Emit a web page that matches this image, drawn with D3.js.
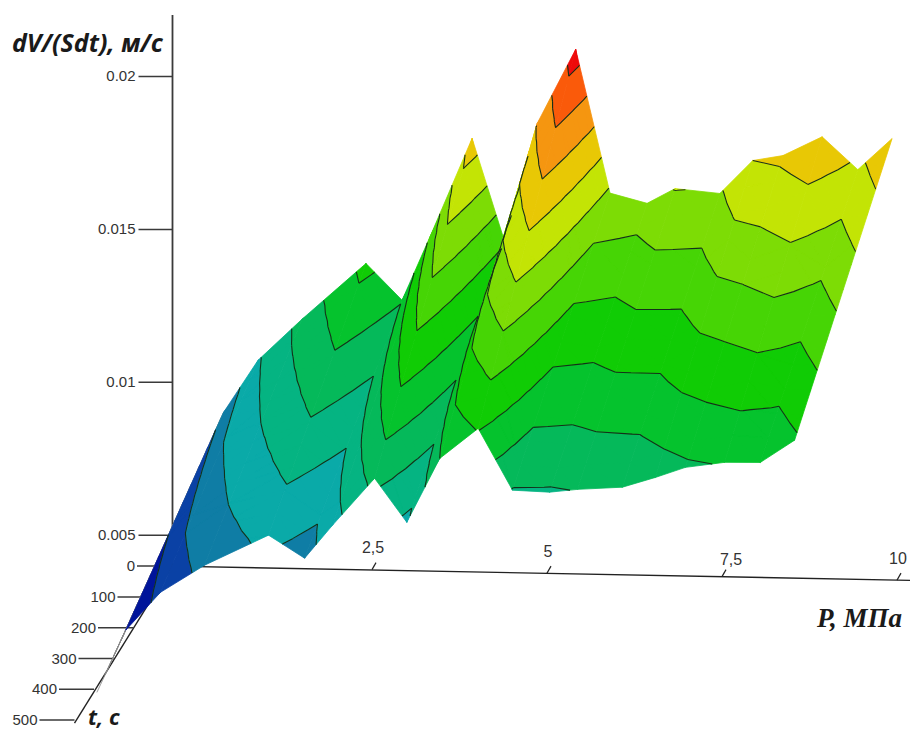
<!DOCTYPE html>
<html>
<head>
<meta charset="utf-8">
<script src="https://cdn.jsdelivr.net/npm/d3@7"></script>
<style>
  html, body { margin: 0; padding: 0; background: #fff; }
  svg { display: block; }
</style>
</head>
<body>
<div id="chart"></div>
<script>
// values: one flux per pressure column, at both ends of the time range
const pressures = [0.28, 0.64, 1.075, 1.625, 2.425, 2.93, 3.33, 3.93, 4.39, 4.86, 5.41, 5.9, 6.43, 6.83, 7.47, 7.94, 8.37, 8.93, 9.44, 9.93];
const times = [0, 500];
const fluxAtStart = [0.00673, 0.00901, 0.01075, 0.01212, 0.01398, 0.0128, 0.0149, 0.01814, 0.01482, 0.01867, 0.02112, 0.01644, 0.01613, 0.01663, 0.0165, 0.0176, 0.01778, 0.01842, 0.01737, 0.01841];
const fluxAtEnd = [0.00489, 0.00694, 0.0082, 0.00911, 0.01013, 0.0094, 0.0105, 0.01206, 0.01064, 0.01275, 0.01376, 0.01176, 0.01172, 0.01183, 0.01193, 0.01227, 0.01262, 0.01281, 0.01283, 0.01358];

const contourLevels = [0.00785, 0.00885, 0.00985, 0.01085, 0.0118, 0.01275, 0.0137, 0.0147, 0.01565, 0.0166, 0.0176, 0.0186, 0.0196, 0.0206];
const bandColors = ['#00149a', '#0a41a5', '#0f7da5', '#0aaaa8', '#05b482', '#05b95a', '#05c32d', '#10cc05', '#46d505', '#7ddc05', '#c3e405', '#e8c805', '#f59610', '#fa5a0a', '#ee0a0a'];

const fluxTicks = [0.005, 0.01, 0.015, 0.02];
const timeTicks = [0, 100, 200, 300, 400, 500];
const pressureTicks = [2.5, 5, 7.5, 10];
const floorFlux = 0.00397;

const width = 910;
const height = 731;

const svg = d3.select('#chart')
    .append('svg')
    .attr('width', width)
    .attr('height', height);

// oblique projection of the Mathcad box: each axis adds its own shift on screen
const pScale = d3.scaleLinear().domain([0, 2.5, 10]).range([172, 372, 897]);
const pShiftY = d3.scaleLinear().domain([0, 10]).range([0, 14]);
const tShiftX = d3.scaleLinear().domain([0, 500]).range([0, -97.5]);
const tShiftY = d3.scaleLinear().domain([0, 500]).range([0, 154]);
const zScale = d3.scaleLinear().domain([0, 0.02]).range([687.5, 76]);

function project(p, t, v) {
    return [pScale(p) + tShiftX(t), zScale(v) + pShiftY(p) + tShiftY(t)];
}

const axisColor = '#3a3a3a';
const labelFont = '"Liberation Sans", Arial, sans-serif';

// axes go first, the surface hides them where it passes in front
const zAxis = svg.append('g')
    .attr('transform', 'translate(172.5,0)')
    .call(d3.axisLeft(zScale).tickValues(fluxTicks).tickSize(34).tickPadding(3).tickFormat(String));
zAxis.select('.domain').remove();
zAxis.selectAll('line').attr('stroke', axisColor).attr('stroke-width', 1.5);
zAxis.selectAll('text').attr('font-family', labelFont).attr('font-size', 15).attr('fill', '#333');

const origin = project(0, 0, floorFlux);
const pEnd = project(10.19, 0, floorFlux);
const tEnd = project(0, 500, floorFlux);

svg.append('line')
    .attr('x1', origin[0] + 0.5).attr('y1', 15)
    .attr('x2', origin[0] + 0.5).attr('y2', origin[1])
    .attr('stroke', axisColor).attr('stroke-width', 1.8);

svg.append('line')
    .attr('x1', origin[0]).attr('y1', origin[1])
    .attr('x2', pEnd[0]).attr('y2', pEnd[1])
    .attr('stroke', '#222').attr('stroke-width', 1.4);

svg.append('line')
    .attr('x1', origin[0]).attr('y1', origin[1])
    .attr('x2', tEnd[0]).attr('y2', tEnd[1] + 3)
    .attr('stroke', '#222').attr('stroke-width', 1.4);

svg.selectAll('.t-tick')
    .data(timeTicks)
    .join('line')
    .attr('class', 't-tick')
    .attr('x1', d => project(0, d, floorFlux)[0] - 35)
    .attr('x2', d => project(0, d, floorFlux)[0])
    .attr('y1', d => project(0, d, floorFlux)[1])
    .attr('y2', d => project(0, d, floorFlux)[1])
    .attr('stroke', axisColor)
    .attr('stroke-width', 1.5);

svg.selectAll('.t-label')
    .data(timeTicks)
    .join('text')
    .attr('class', 't-label')
    .attr('x', d => project(0, d, floorFlux)[0] - 37)
    .attr('y', d => project(0, d, floorFlux)[1] + 5)
    .attr('text-anchor', 'end')
    .attr('font-family', labelFont)
    .attr('font-size', 15)
    .attr('fill', '#333')
    .text(d => d);

svg.selectAll('.p-tick')
    .data(pressureTicks)
    .join('line')
    .attr('class', 'p-tick')
    .attr('x1', d => project(d, 0, floorFlux)[0])
    .attr('y1', d => project(d, 0, floorFlux)[1])
    .attr('x2', d => project(d, 0, floorFlux)[0] + 4)
    .attr('y2', d => project(d, 0, floorFlux)[1] - 7)
    .attr('stroke', '#222')
    .attr('stroke-width', 1.2);

// the 7,5 label sits further right and lower than the others in the original
svg.selectAll('.p-label')
    .data(pressureTicks)
    .join('text')
    .attr('class', 'p-label')
    .attr('x', d => project(d, 0, floorFlux)[0] + (d === 7.5 ? 9 : 1))
    .attr('y', d => project(d, 0, floorFlux)[1] - (d === 7.5 ? 11.5 : 16.5))
    .attr('text-anchor', 'middle')
    .attr('font-family', labelFont)
    .attr('font-size', 16)
    .attr('fill', '#333')
    .text(d => String(d).replace('.', ','));

// surface: every column cell is cut into thin strips along t so contours stay straight
const strips = 12;
const bandPaths = bandColors.map(() => []);
const levelPaths = contourLevels.map(() => []);

function clipAbove(poly, level, keepAbove) {
    const out = [];
    poly.forEach((a, i) => {
        const b = poly[(i + 1) % poly.length];
        const aIn = keepAbove ? a[2] >= level : a[2] <= level;
        const bIn = keepAbove ? b[2] >= level : b[2] <= level;
        if (aIn) out.push(a);
        if (aIn !== bIn) {
            const k = (level - a[2]) / (b[2] - a[2]);
            out.push([a[0] + (b[0] - a[0]) * k, a[1] + (b[1] - a[1]) * k, level]);
        }
    });
    return out;
}

function polyPath(pts) {
    const ring = pts.map(d => [d[0], d[1]]);
    if (d3.polygonArea(ring) < 0) ring.reverse();
    return 'M' + ring.map(d => d[0].toFixed(2) + ',' + d[1].toFixed(2)).join('L') + 'Z';
}

function addTriangle(tri) {
    bandColors.forEach((c, b) => {
        let poly = tri;
        if (b > 0) poly = clipAbove(poly, contourLevels[b - 1], true);
        if (poly.length && b < contourLevels.length) poly = clipAbove(poly, contourLevels[b], false);
        if (poly.length >= 3) bandPaths[b].push(polyPath(poly));
    });
    contourLevels.forEach((level, l) => {
        const hits = [];
        tri.forEach((a, i) => {
            const q = tri[(i + 1) % 3];
            if ((a[2] < level) !== (q[2] < level)) {
                const k = (level - a[2]) / (q[2] - a[2]);
                hits.push([a[0] + (q[0] - a[0]) * k, a[1] + (q[1] - a[1]) * k]);
            }
        });
        if (hits.length === 2) {
            levelPaths[l].push('M' + hits[0].map(n => n.toFixed(2)).join(',') + 'L' + hits[1].map(n => n.toFixed(2)).join(','));
        }
    });
}

function node(col, k) {
    const t = times[0] + (times[1] - times[0]) * k;
    const v = fluxAtStart[col] + (fluxAtEnd[col] - fluxAtStart[col]) * k;
    return [...project(pressures[col], t, v), v];
}

const surface = svg.append('g');
const lines = svg.append('g');

// left to right, so a later sheet covers the one folded behind it
d3.range(pressures.length - 1).forEach(col => {
    bandPaths.forEach(list => { list.length = 0; });
    levelPaths.forEach(list => { list.length = 0; });
    d3.range(strips).forEach(s => {
        const a = node(col, s / strips);
        const b = node(col + 1, s / strips);
        const c = node(col + 1, (s + 1) / strips);
        const d = node(col, (s + 1) / strips);
        addTriangle([a, b, c]);
        addTriangle([a, c, d]);
    });
    bandPaths.forEach((list, b) => {
        if (!list.length) return;
        // the first sheet is seen edge-on and shows only as a thin grey line
        surface.append('path')
            .attr('d', list.join(''))
            .attr('fill', col === 0 ? '#8a8a8a' : bandColors[b])
            .attr('stroke', col === 0 ? '#8a8a8a' : bandColors[b])
            .attr('stroke-width', col === 0 ? 0.5 : 0.8)
            .attr('stroke-linejoin', 'round');
    });
    if (col === 0) return;
    levelPaths.forEach(list => {
        if (!list.length) return;
        lines.append('path')
            .attr('d', list.join(''))
            .attr('fill', 'none')
            .attr('stroke', '#14301a')
            .attr('stroke-width', 1.1);
    });
});

// axis titles
svg.append('text')
    .attr('x', 12).attr('y', 52)
    .attr('font-family', '"Open Sans", Lato, sans-serif')
    .attr('font-weight', 700).attr('font-style', 'italic')
    .attr('font-size', 25).attr('fill', '#1a1a1a')
    .text('dV/(Sdt), м/с');

svg.append('text')
    .attr('x', 88).attr('y', 725)
    .attr('font-family', '"Open Sans", Lato, sans-serif')
    .attr('font-weight', 700).attr('font-style', 'italic')
    .attr('font-size', 22).attr('fill', '#1a1a1a')
    .text('t, с');

svg.append('text')
    .attr('x', 817).attr('y', 627)
    .attr('font-family', '"Liberation Serif", serif')
    .attr('font-weight', 700).attr('font-style', 'italic')
    .attr('font-size', 27).attr('fill', '#1a1a1a')
    .text('P, МПа');
</script>
</body>
</html>
